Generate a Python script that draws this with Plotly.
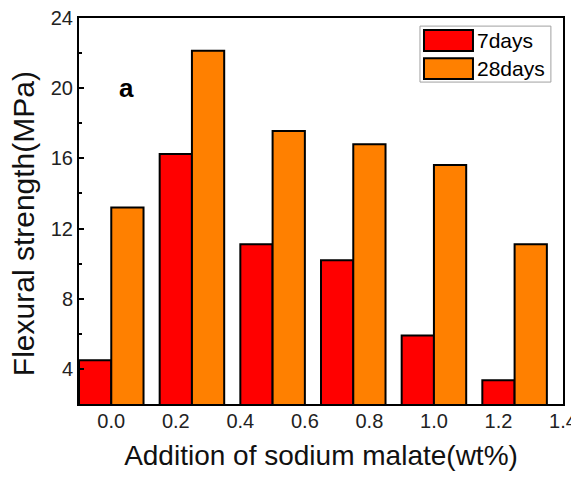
import plotly.graph_objects as go

# Data
additions = [0.0, 0.25, 0.5, 0.75, 1.0, 1.25]
days7 = [4.5, 16.25, 11.1, 10.2, 5.9, 3.35]
days28 = [13.2, 22.13, 17.56, 16.8, 15.62, 11.1]
series_names = ["7days", "28days"]
series_colors = ["#ff0000", "#ff8000"]
x_ticks = [0.0, 0.2, 0.4, 0.6, 0.8, 1.0, 1.2, 1.4]
y_ticks = [4, 8, 12, 16, 20, 24]

FONT = "Liberation Sans, Arial, sans-serif"

fig = go.Figure()
for name, vals, col, off in zip(series_names, [days7, days28], series_colors, [-0.1, 0.0]):
    fig.add_trace(go.Bar(
        x=additions, y=vals, name=name, width=0.1, offset=off,
        marker=dict(color=col, line=dict(color="black", width=2)),
        showlegend=False,
    ))

# Manual legend (paper coords)
shapes = [dict(type="rect", xref="paper", yref="paper", x0=0.7045, x1=0.975, y0=0.834, y1=0.979,
               line=dict(color="#a0a0a0", width=1), fillcolor="white", layer="above")]
annotations = []
sw_y = [(0.9145, 0.969), (0.842, 0.896)]
for (y0, y1), name, col in zip(sw_y, series_names, series_colors):
    shapes.append(dict(type="rect", xref="paper", yref="paper", x0=0.7128, x1=0.814, y0=y0, y1=y1,
                       line=dict(color="black", width=2), fillcolor=col, layer="above"))
    annotations.append(dict(x=0.818, y=(y0 + y1) / 2, xref="paper", yref="paper", text=name,
                            showarrow=False, xanchor="left", yanchor="middle",
                            font=dict(family=FONT, size=21, color="black")))
annotations.append(dict(x=0.078, y=0.819, xref="paper", yref="paper", text="<b>a</b>",
                        showarrow=False, xanchor="left", yanchor="middle",
                        font=dict(family=FONT, size=26, color="black")))
# y-axis title
annotations.append(dict(x=-0.1157, y=0.466, xref="paper", yref="paper", text="Flexural strength(MPa)",
                        textangle=-90, showarrow=False, xanchor="center", yanchor="middle",
                        font=dict(family=FONT, size=30, color="#111")))

# page body has an 8px margin, so the figure is sized to fit the window
fig.update_layout(
    width=571, height=463,
    margin=dict(l=71, r=16, t=10, b=67),
    paper_bgcolor="white", plot_bgcolor="white",
    barmode="overlay",
    font=dict(family=FONT, color="black"),
    shapes=shapes, annotations=annotations,
    xaxis=dict(
        range=[-0.1, 1.4], tickvals=x_ticks, ticktext=[f"{v:.1f}" for v in x_ticks],
        ticks="", showgrid=False, zeroline=False, automargin=False,
        showline=True, linecolor="black", linewidth=2, mirror=True,
        tickfont=dict(family=FONT, size=20, color="#222"),
        ticklabelstandoff=-2, ticklabeloverflow="allow",
        title=dict(text="Addition of sodium malate(wt%)", font=dict(family=FONT, size=28, color="#111"), standoff=17),
    ),
    yaxis=dict(
        range=[2, 24], tickvals=y_ticks, ticks="inside", ticklen=5, tickwidth=2, tickcolor="black",
        minor=dict(tickvals=[6, 10, 14, 18, 22], ticks="inside", ticklen=3, tickwidth=2, tickcolor="black"),
        showgrid=False, zeroline=False, automargin=False, ticklabeloverflow="allow",
        showline=True, linecolor="black", linewidth=2, mirror=True,
        tickfont=dict(family=FONT, size=20, color="#222"),
    ),
)

fig.write_html("out.html")
